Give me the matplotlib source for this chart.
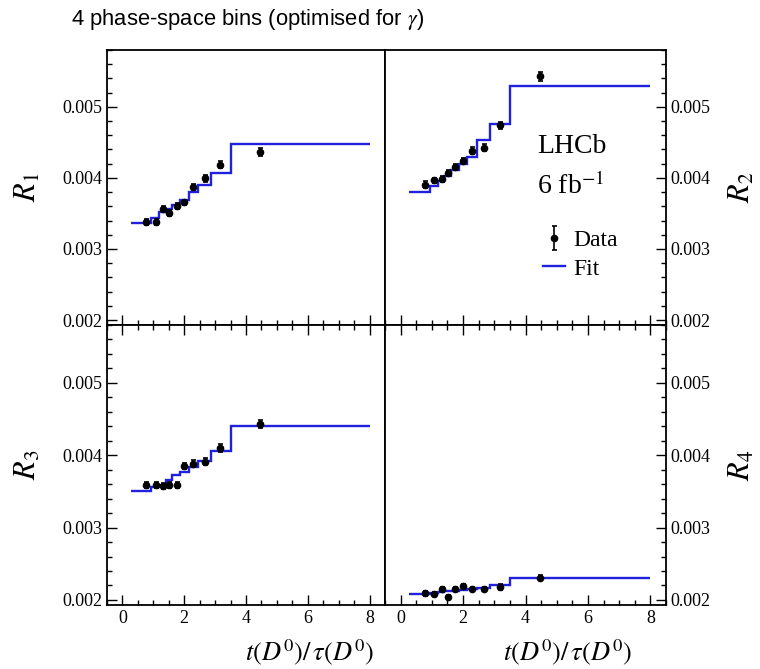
import matplotlib
matplotlib.use('Agg')
import matplotlib.pyplot as plt
from matplotlib.ticker import MultipleLocator, FormatStrFormatter

plt.rcParams['font.family'] = 'serif'
plt.rcParams['font.serif'] = ['Liberation Serif', 'DejaVu Serif']
plt.rcParams['mathtext.fontset'] = 'stix'

# decay-time bin edges and mean decay time in each bin
edges = [0.27, 0.94, 1.19, 1.40, 1.62, 1.87, 2.14, 2.45, 2.87, 3.51, 8.0]
tMean = [0.77, 1.08, 1.32, 1.51, 1.75, 2.00, 2.29, 2.66, 3.17, 4.46]

r1Data = [0.003381, 0.003375, 0.003567, 0.003507, 0.003609, 0.003655, 0.003871, 0.003992, 0.004183, 0.004366]
r1Err = [0.00004, 0.00004, 0.00004, 0.00004, 0.00004, 0.00004, 0.000045, 0.000045, 0.00005, 0.00006]
r1Fit = [0.00336, 0.00344, 0.00352, 0.00356, 0.00362, 0.00369, 0.00380, 0.00390, 0.00407, 0.00448]

r2Data = [0.003903, 0.003964, 0.003987, 0.004067, 0.004151, 0.004244, 0.004384, 0.004422, 0.004739, 0.005430]
r2Err = [0.00005, 0.00004, 0.00004, 0.00004, 0.00004, 0.00004, 0.000045, 0.00005, 0.00005, 0.00006]
r2Fit = [0.00380, 0.00388, 0.00395, 0.00402, 0.00411, 0.00420, 0.00430, 0.00453, 0.00476, 0.00530]

r3Data = [0.003591, 0.003591, 0.003577, 0.003587, 0.003587, 0.003849, 0.003883, 0.003911, 0.004099, 0.004433]
r3Err = [0.00004, 0.00004, 0.00004, 0.00004, 0.00004, 0.00004, 0.000045, 0.000045, 0.00005, 0.00006]
r3Fit = [0.00350, 0.00356, 0.00359, 0.00366, 0.00372, 0.00377, 0.00384, 0.00392, 0.00406, 0.00441]

r4Data = [0.002090, 0.002085, 0.002155, 0.002042, 0.002147, 0.002189, 0.002147, 0.002147, 0.002179, 0.002310]
r4Err = [0.00003, 0.00003, 0.00003, 0.00003, 0.00003, 0.00003, 0.00003, 0.00003, 0.00004, 0.00004]
r4Fit = [0.00208, 0.00209, 0.00211, 0.00212, 0.00213, 0.00214, 0.00215, 0.00217, 0.00220, 0.00231]

panels = [
    (r1Data, r1Err, r1Fit, r'$R_{\mathit{1}}$'),
    (r2Data, r2Err, r2Fit, r'$R_{\mathit{2}}$'),
    (r3Data, r3Err, r3Fit, r'$R_{\mathit{3}}$'),
    (r4Data, r4Err, r4Fit, r'$R_{\mathit{4}}$'),
]

fig = plt.figure(figsize=(7.6, 6.69), dpi=100)

x0, xm, x1 = 107 / 760, 385 / 760, 666 / 760
yTop, yMid, yBot = 1 - 50 / 669, 1 - 325 / 669, 1 - 605 / 669
boxes = [
    [x0, yMid, xm - x0, yTop - yMid],
    [xm, yMid, x1 - xm, yTop - yMid],
    [x0, yBot, xm - x0, yMid - yBot],
    [xm, yBot, x1 - xm, yMid - yBot],
]

axes = []
for i, (vals, errs, fit, name) in enumerate(panels):
    ax = fig.add_axes(boxes[i])
    axes.append(ax)
    ax.stairs(fit, edges, baseline=None, color='#2020dd', linewidth=1.7, label='Fit')
    ax.errorbar(tMean, vals, yerr=errs, fmt='o', color='black', markersize=4.5,
                elinewidth=1.2, capsize=1.8, capthick=1.2, label='Data')

    ax.set_xlim(-0.5, 8.5)
    ax.set_ylim(0.00193, 0.0058)
    ax.xaxis.set_major_locator(MultipleLocator(2))
    ax.xaxis.set_minor_locator(MultipleLocator(0.5))
    ax.yaxis.set_major_locator(MultipleLocator(0.001))
    ax.yaxis.set_minor_locator(MultipleLocator(0.0002))
    ax.yaxis.set_major_formatter(FormatStrFormatter('%.3f'))

    right = i % 2 == 1
    bottom = i >= 2
    ax.tick_params(axis='both', which='both', direction='in', labelsize=13, width=1)
    ax.tick_params(axis='both', which='major', length=7)
    ax.tick_params(axis='both', which='minor', length=3.5)
    if bottom:
        ax.xaxis.set_ticks_position('both')
    else:
        ax.xaxis.set_ticks_position('bottom')
        ax.tick_params(axis='x', labelbottom=False)
    if right:
        ax.yaxis.set_ticks_position('right')
        ax.yaxis.set_label_position('right')
        ax.set_ylabel(name, fontsize=22, rotation=90, labelpad=12)
    else:
        ax.yaxis.set_ticks_position('left')
        ax.set_ylabel(name, fontsize=22, rotation=90, labelpad=14)
    for s in ax.spines.values():
        s.set_linewidth(1.3)

    if bottom:
        ax.set_xlabel(r'$t(D^0)/\,\tau(D^0)$', fontsize=19)
        ax.xaxis.set_label_coords(0.73 if not right else 0.65, -0.115)

# LHCb label and legend in the R2 panel
ax2 = axes[1]
ax2.text(0.54, 0.65, 'LHCb', transform=ax2.transAxes, fontsize=20, va='center', ha='left')
ax2.text(0.54, 0.505, '6 fb$^{-1}$', transform=ax2.transAxes, fontsize=20, va='center', ha='left')
h, l = ax2.get_legend_handles_labels()
ax2.legend(h[::-1], l[::-1], loc='upper left', bbox_to_anchor=(0.52, 0.39), frameon=False,
           fontsize=17, handlelength=0.95, handletextpad=0.35, labelspacing=0.3, borderpad=0)

fig.text(248 / 760, 1 - 20 / 669, r'4 phase-space bins (optimised for $\gamma$)',
         family='Liberation Sans', fontsize=15.8, ha='center', va='center')

fig.savefig('out.png', dpi=100)
